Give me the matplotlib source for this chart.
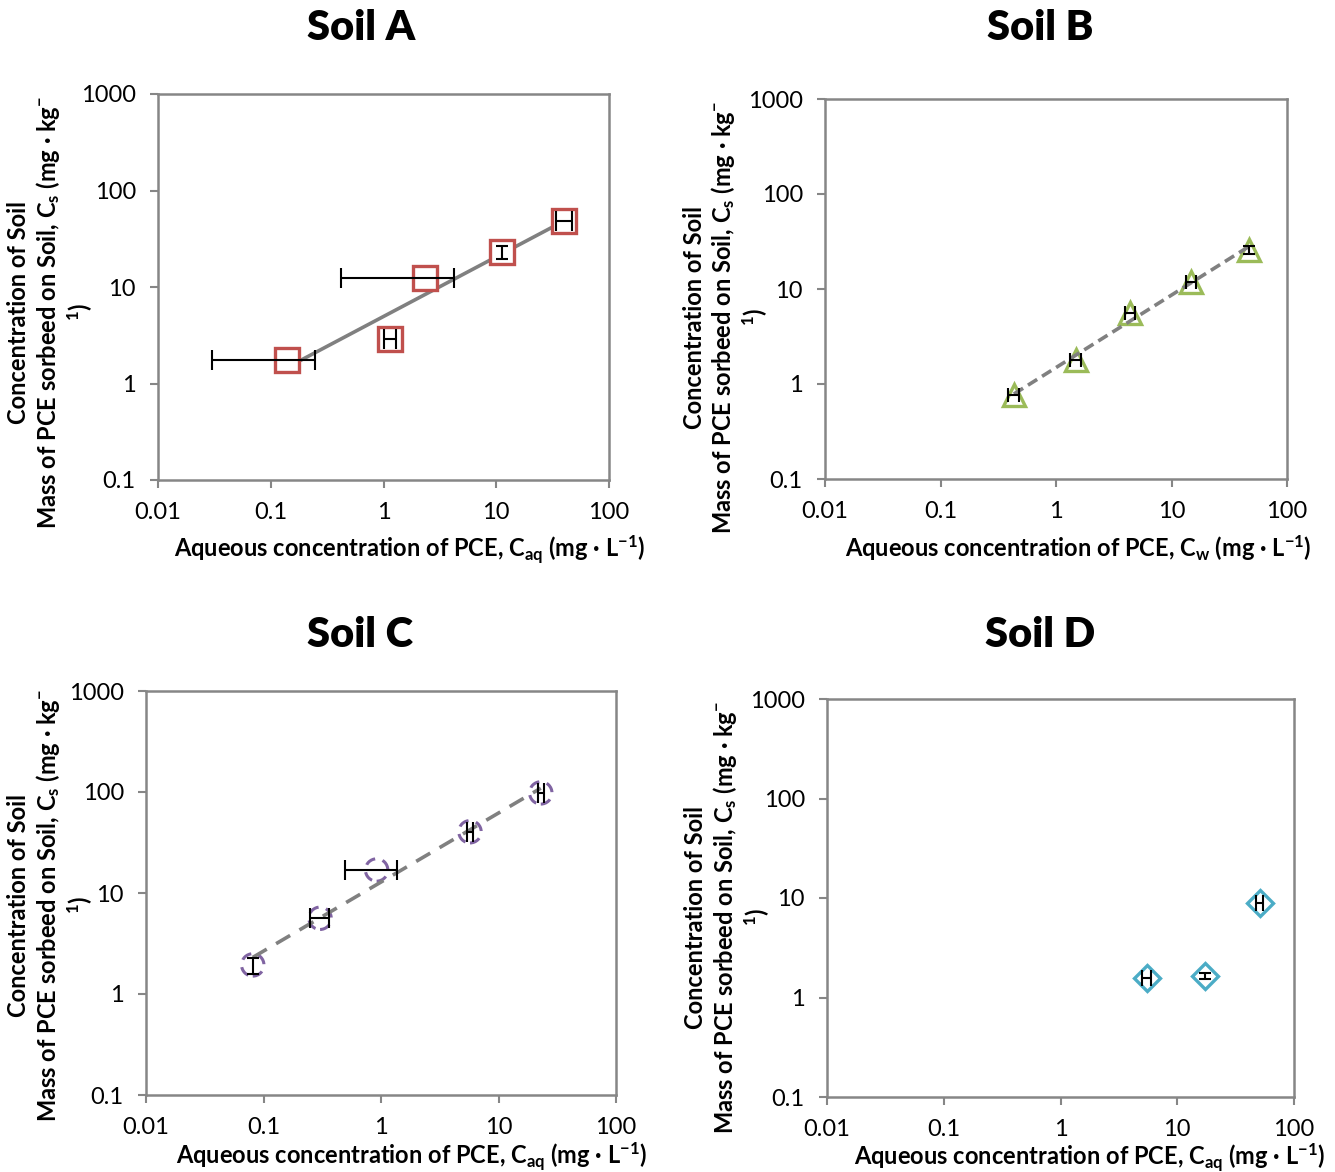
import numpy as np
import matplotlib
matplotlib.use('Agg')
import matplotlib.pyplot as plt
from matplotlib.ticker import FixedLocator, FuncFormatter, NullLocator

plt.rcParams['font.family'] = ['Lato', 'DejaVu Sans']
# math parts follow the text's own font (so bold labels stay bold)
plt.rcParams['mathtext.fontset'] = 'custom'
plt.rcParams['mathtext.rm'] = 'Lato'
plt.rcParams['mathtext.bf'] = 'Lato:bold'
plt.rcParams['mathtext.default'] = 'regular'

# Soil A
xA = [0.139, 1.14, 2.33, 11.2, 39.9]
yA = [1.75, 2.89, 12.4, 23.0, 48.3]
xA_lo = [0.109, 0.14, 1.91, 0, 6.0]
xA_hi = [0.108, 0.16, 1.87, 0, 6.8]
yA_err = [0, 0, 0, 3.5, 0]

# Soil B
xB = [0.432, 1.48, 4.37, 14.8, 46.9]
yB = [0.766, 1.79, 5.63, 11.9, 25.7]
xB_lo = [0.045, 0.15, 0.45, 1.5, 0]
xB_hi = [0.045, 0.15, 0.45, 1.5, 0]
yB_err = [0, 0, 0, 0, 2.5]

# Soil C
xC = [0.081, 0.303, 0.918, 5.72, 22.9]
yC = [1.94, 5.62, 16.9, 40.4, 98.0]
xC_lo = [0, 0.054, 0.424, 0.35, 1.3]
xC_hi = [0, 0.058, 0.462, 0.35, 1.3]
yC_err = [0.35, 0, 0, 0, 0]

# Soil D
xD = [5.47, 17.3, 51.2]
yD = [1.58, 1.64, 8.85]
xD_lo = [0.5, 0, 3.5]
xD_hi = [0.5, 0, 3.5]
yD_err = [0, 0.12, 0]

xticks = [0.01, 0.1, 1, 10, 100]
yticks = [0.1, 1, 10, 100, 1000]

ylab = 'Concentration of Soil\nMass of PCE sorbeed on Soil, C$_{s}$ (mg · kg$^{-}$\n$^{1}$)'
xlab_aq = 'Aqueous concentration of PCE, C$_{aq}$ (mg · L$^{-1}$)'
xlab_w = 'Aqueous concentration of PCE, C$_{w}$ (mg · L$^{-1}$)'

fig = plt.figure(figsize=(13.35, 11.72), dpi=100)


def setup(ax, xlab, xl_pos, yl_pos):
    ax.set_xscale('log')
    ax.set_yscale('log')
    ax.set_xlim(0.01, 100)
    ax.set_ylim(0.1, 1000)
    ax.xaxis.set_major_locator(FixedLocator(xticks))
    ax.yaxis.set_major_locator(FixedLocator(yticks))
    ax.xaxis.set_minor_locator(NullLocator())
    ax.yaxis.set_minor_locator(NullLocator())
    fmt = FuncFormatter(lambda v, p: '{:g}'.format(v))
    ax.xaxis.set_major_formatter(fmt)
    ax.yaxis.set_major_formatter(fmt)
    for s in ax.spines.values():
        s.set_color('#868686')
        s.set_linewidth(1.8)
    ax.tick_params(axis='both', direction='out', length=6, width=1.5, color='#868686',
                   labelsize=17, pad=10)
    ax.set_xlabel(xlab, fontsize=17, fontweight='bold')
    ax.set_ylabel(ylab, fontsize=17, fontweight='bold', linespacing=1.15)
    ax.xaxis.set_label_coords(*xl_pos)
    ax.yaxis.set_label_coords(*yl_pos)


def errbars(ax, x, y, xlo, xhi, yerr, cap=7):
    for i in range(len(x)):
        if xlo[i] > 0 or xhi[i] > 0:
            ax.errorbar([x[i]], [y[i]], xerr=[[xlo[i]], [xhi[i]]], fmt='none', ecolor='black',
                        elinewidth=1.5, capsize=cap, capthick=1.5, zorder=5)
        if yerr[i] > 0:
            ax.errorbar([x[i]], [y[i]], yerr=[yerr[i]], fmt='none', ecolor='black',
                        elinewidth=1.5, capsize=4, capthick=1.5, zorder=5)


def trend(ax, x, y, ls):
    lx = np.log10(x)
    k = np.polyfit(lx, np.log10(y), 1)
    xs = np.array([min(lx), max(lx)])
    ax.plot(10 ** xs, 10 ** np.polyval(k, xs), color='#808080', lw=2.6, ls=ls, zorder=3)


axA = fig.add_axes([158 / 1335, 1 - 480 / 1172, 451 / 1335, 386 / 1172])
axB = fig.add_axes([825 / 1335, 1 - 479 / 1172, 462 / 1335, 380 / 1172])
axC = fig.add_axes([146 / 1335, 1 - 1095 / 1172, 470 / 1335, 404 / 1172])
axD = fig.add_axes([827 / 1335, 1 - 1097 / 1172, 467 / 1335, 398 / 1172])

setup(axA, xlab_aq, (0.557, -0.137), (-0.14, 0.435))
setup(axB, xlab_w, (0.548, -0.142), (-0.119, 0.426))
setup(axC, xlab_aq, (0.566, -0.111), (-0.109, 0.47))
setup(axD, xlab_aq, (0.563, -0.11), (-0.118, 0.452))

# A: squares, solid trend
axA.plot(xA, yA, ls='none', marker='s', ms=17, mfc='white', mec='#C0504D', mew=2.4, zorder=4)
trend(axA, xA, yA, '-')
errbars(axA, xA, yA, xA_lo, xA_hi, yA_err)

# B: triangles, dashed trend
axB.plot(xB, yB, ls='none', marker='^', ms=15.5, mfc='white', mec='#9BBB59', mew=2.4, zorder=2)
trend(axB, xB, yB, (0, (3, 1.6)))
errbars(axB, xB, yB, xB_lo, xB_hi, yB_err, cap=5)

# C: dashed circles, dashed trend
axC.scatter(xC, yC, s=260, facecolors='none', edgecolors='#8064A2', linewidths=2.2,
            linestyle=(0, (3.5, 2.5)), zorder=2)
trend(axC, xC, yC, (0, (4.5, 3)))
errbars(axC, xC, yC, xC_lo, xC_hi, yC_err)

# D: diamonds, no trend
axD.plot(xD, yD, ls='none', marker='D', ms=13, mfc='white', mec='#4BACC6', mew=2.4, zorder=4)
errbars(axD, xD, yD, xD_lo, xD_hi, yD_err, cap=6)

for t, px, py in [('Soil A', 361, 28), ('Soil B', 1040, 28), ('Soil C', 360, 635), ('Soil D', 1040, 635)]:
    fig.text(px / 1335, 1 - py / 1172, t, fontsize=30, fontweight='heavy', ha='center', va='center')

fig.savefig('out.png', dpi=100)
